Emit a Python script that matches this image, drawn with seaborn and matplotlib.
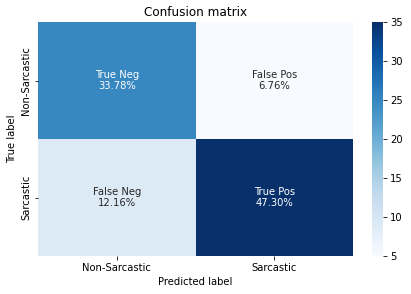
import numpy as np
import matplotlib
matplotlib.use("Agg")
import matplotlib.pyplot as plt
import seaborn as sns

# counts (percentages imply 74 samples)
counts = [[25, 5],
          [9, 35]]
group_names = ["True Neg", "False Pos", "False Neg", "True Pos"]
class_names = ["Non-Sarcastic", "Sarcastic"]

cm = np.array(counts)
pcts = ["{0:.2%}".format(v) for v in cm.flatten() / np.sum(cm)]
labels = np.asarray([f"{n}\n{p}" for n, p in zip(group_names, pcts)]).reshape(2, 2)

fig = plt.figure(figsize=(411 / 72, 294 / 72), dpi=72)
ax = fig.add_axes([38 / 411, 1 - 256 / 294, 315 / 411, 234 / 294])
cax = fig.add_axes([372 / 411, 1 - 256 / 294, 11 / 411, 234 / 294])

sns.heatmap(cm, annot=labels, fmt="", cmap="Blues", ax=ax, cbar_ax=cax,
            xticklabels=class_names, yticklabels=class_names,
            annot_kws={"fontsize": 10})
cax.tick_params(labelsize=10)
for s in cax.spines.values():
    s.set_visible(False)
ax.set_title("Confusion matrix", fontsize=12)
ax.set_xlabel("Predicted label", fontsize=10)
ax.set_ylabel("True label", fontsize=10)
ax.tick_params(labelsize=10)

fig.savefig("out.png", dpi=72)
